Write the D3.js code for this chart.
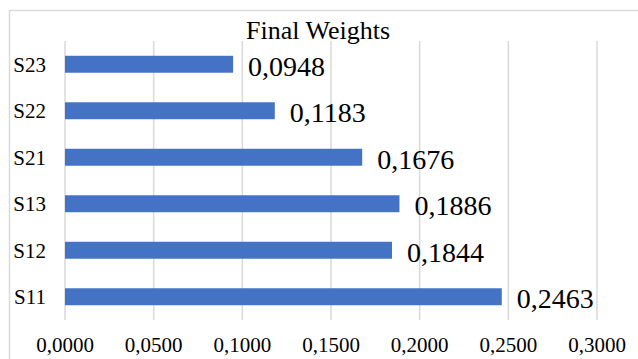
<!DOCTYPE html>
<html>
<head>
<meta charset="utf-8">
<script src="https://cdn.jsdelivr.net/npm/d3@7"></script>
<style>
  html, body { margin: 0; padding: 0; background: #fff; }
  svg { display: block; font-family: "Liberation Serif", "Times New Roman", serif; }
</style>
</head>
<body>
<svg id="chart" width="638" height="359"></svg>
<script>
// Final weights per criterion, listed top to bottom
const categories = ["S23", "S22", "S21", "S13", "S12", "S11"];
const weights = [0.0948, 0.1183, 0.1676, 0.1886, 0.1844, 0.2463];
const tickValues = [0, 0.05, 0.1, 0.15, 0.2, 0.25, 0.3];
const title = "Final Weights";

const svg = d3.select("#chart");
const fmt = v => d3.format(".4f")(v).replace(".", ",");

const plot = { left: 65, right: 597, top: 41, bottom: 320 };

const x = d3.scaleLinear().domain([0, 0.3]).range([plot.left, plot.right]);
const y = d3.scaleBand().domain(categories).range([plot.top, plot.bottom])
  .paddingInner(0.635).paddingOuter(0.3175);

// chart area frame
svg.append("rect")
  .attr("x", 9.5).attr("y", 10.5)
  .attr("width", 700).attr("height", 400)
  .attr("fill", "none").attr("stroke", "#d9d9d9").attr("stroke-width", 1.5);

// vertical gridlines
svg.append("g").selectAll("line").data(tickValues).join("line")
  .attr("x1", d => x(d)).attr("x2", d => x(d))
  .attr("y1", plot.top).attr("y2", plot.bottom)
  .attr("stroke", "#d9d9d9").attr("stroke-width", 1.5);

// x tick labels
svg.append("g").selectAll("text").data(tickValues).join("text")
  .attr("x", d => x(d)).attr("y", 352)
  .attr("text-anchor", "middle")
  .attr("font-size", 21).attr("fill", "#000")
  .text(d => fmt(d));

// category labels
svg.append("g").selectAll("text").data(categories).join("text")
  .attr("x", 46).attr("y", d => y(d) + y.bandwidth() / 2 + 7.5)
  .attr("text-anchor", "end")
  .attr("font-size", 21).attr("fill", "#000")
  .text(d => d);

// bars
svg.append("g").selectAll("rect").data(categories).join("rect")
  .attr("x", x(0))
  .attr("y", d => y(d))
  .attr("width", (d, i) => x(weights[i]) - x(0))
  .attr("height", y.bandwidth())
  .attr("fill", "#4472c4");

// value labels
svg.append("g").selectAll("text").data(categories).join("text")
  .attr("x", (d, i) => x(weights[i]) + 15)
  .attr("y", d => y(d) + y.bandwidth() / 2 + 11.5)
  .attr("font-size", 28).attr("fill", "#000")
  .text((d, i) => fmt(weights[i]));

// title
svg.append("text")
  .attr("x", 318).attr("y", 39)
  .attr("text-anchor", "middle")
  .attr("font-size", 26).attr("fill", "#000")
  .text(title);
</script>
</body>
</html>
